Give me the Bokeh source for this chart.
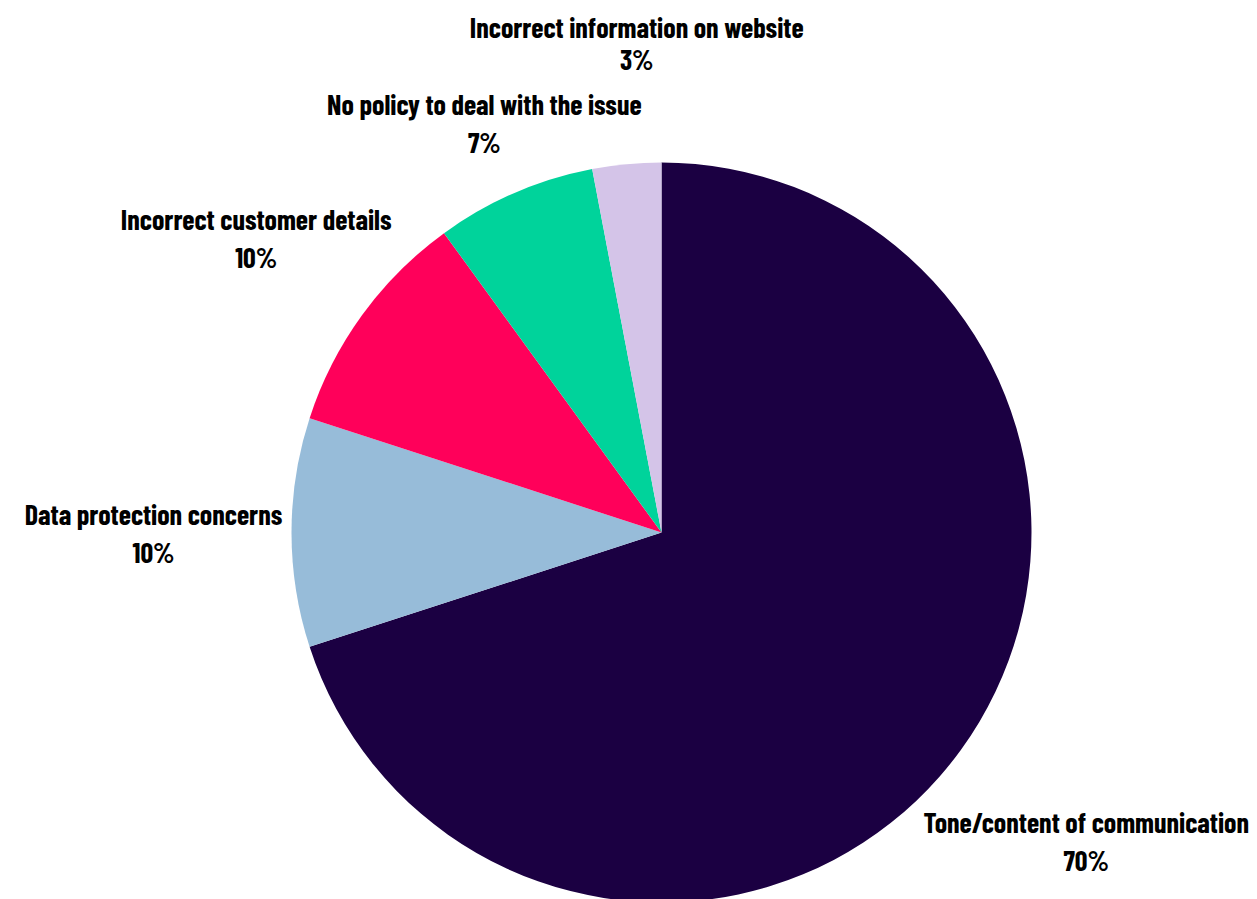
import math
from bokeh.plotting import figure
from bokeh.models import ColumnDataSource, Range1d
from bokeh.embed import file_html
from bokeh.resources import INLINE
from bokeh.core.properties import value

# ---- data ----
categories = [
    "Tone/content of communication",
    "Data protection concerns",
    "Incorrect customer details",
    "No policy to deal with the issue",
    "Incorrect information on website",
]
shares = [70, 10, 10, 7, 3]

# ---- style / layout ----
colors = ["#1B0042", "#97BCD9", "#FF005A", "#00D39B", "#D4C4E8"]
W, H = 1257, 899
CX, CY, R = 661, 367, 370
label_r = [525, 508, 501, 446, 490]
label_shift_deg = [0, 0, 0, 0, 2.5]
line_gap = [19, 19, 19, 19, 16]
FONT = "Barlow Condensed"
FONT_PX = 28
CHAR_W = 0.41 * FONT_PX  # rough average glyph width, used only to keep labels inside

total = float(sum(shares))
starts, ends, lx, ly = [], [], [], []
cum = 0.0
for i, v in enumerate(shares):
    a0 = cum / total
    a1 = (cum + v) / total
    starts.append(math.pi / 2 - 2 * math.pi * a0)
    ends.append(math.pi / 2 - 2 * math.pi * a1)
    mid = math.radians(360 * (a0 + a1) / 2 + label_shift_deg[i])
    x = CX + label_r[i] * math.sin(mid)
    half = len(categories[i]) * CHAR_W / 2
    x = min(max(x, half + 4), W - half - 4)
    lx.append(x)
    ly.append(CY + label_r[i] * math.cos(mid))
    cum += v

src = ColumnDataSource(dict(
    x=[CX] * len(shares), y=[CY] * len(shares),
    start=starts, end=ends, color=colors,
))

lab = ColumnDataSource(dict(
    x=lx,
    y1=[y + g for y, g in zip(ly, line_gap)],
    y2=[y - g for y, g in zip(ly, line_gap)],
    name=categories,
    pct=[f"{v}%" for v in shares],
))

p = figure(width=W, height=H, output_backend="svg", toolbar_location=None,
           x_range=Range1d(0, W), y_range=Range1d(0, H), min_border=0)
p.axis.visible = False
p.grid.visible = False
p.outline_line_color = None
p.background_fill_color = "white"
p.border_fill_color = "white"

p.wedge(x="x", y="y", radius=R, start_angle="start", end_angle="end",
        direction="clock", fill_color="color", line_color=None, source=src)

for col, key in (("y1", "name"), ("y2", "pct")):
    p.text(x="x", y=col, text=key, source=lab,
           text_font=value(FONT), text_font_style="bold",
           text_font_size=f"{FONT_PX}px", text_color="#000000",
           text_align="center", text_baseline="middle")

open("out.html", "w").write(file_html(p, INLINE))
